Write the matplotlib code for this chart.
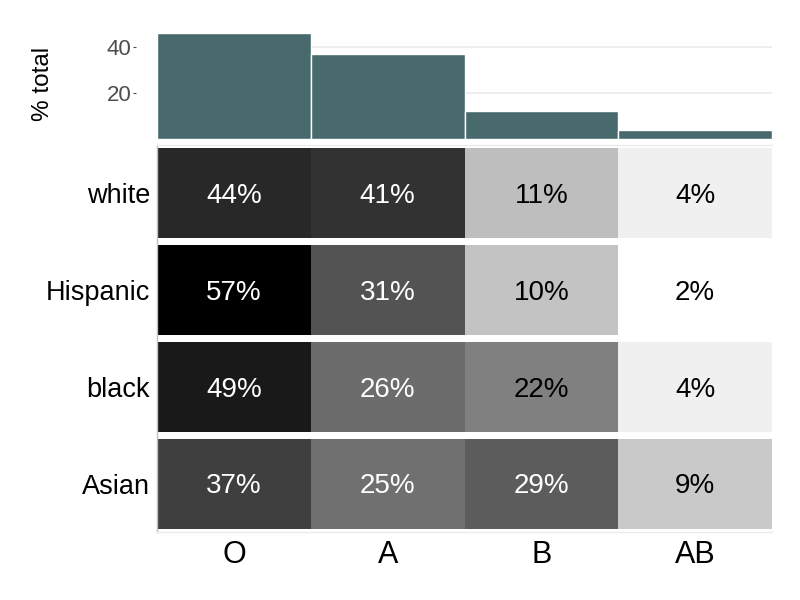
import matplotlib
matplotlib.use("Agg")
import matplotlib.pyplot as plt
from matplotlib.colors import LinearSegmentedColormap, Normalize

plt.rcParams['font.family'] = ['Liberation Sans', 'DejaVu Sans']

blood_types = ["O", "A", "B", "AB"]
groups = ["white", "Hispanic", "black", "Asian"]
total_pct = [46, 37, 12, 4]
group_pct = {
    "white":    [44, 41, 11, 4],
    "Hispanic": [57, 31, 10, 2],
    "black":    [49, 26, 22, 4],
    "Asian":    [37, 25, 29, 9],
}

bar_color = "#496a6d"
vmin, vmax = 2, 57
# grey ramp (value -> grey) anchors
ramp_vals = [2, 9, 22, 31, 44, 57]
ramp_cols = ["#ffffff", "#c8c8c8", "#808080", "#525252", "#282828", "#000000"]
cmap = LinearSegmentedColormap.from_list(
    "greys", [((v - vmin) / (vmax - vmin), c) for v, c in zip(ramp_vals, ramp_cols)])
norm = Normalize(vmin=vmin, vmax=vmax)

fig = plt.figure(figsize=(8, 6), dpi=100)
W, H = 800, 600
left, right = 157, 772
ax_top = fig.add_axes([left / W, 1 - 139 / H, (right - left) / W, (139 - 28) / H])
ax_hm = fig.add_axes([left / W, 1 - 532 / H, (right - left) / W, (532 - 145) / H])

# top bar chart
x = list(range(len(blood_types)))
ax_top.bar(x, total_pct, width=1.0, color=bar_color, edgecolor="white", linewidth=1.0, zorder=2)
ax_top.set_xlim(-0.5, 3.5)
ax_top.set_ylim(0, 48.3)
ax_top.set_yticks([20, 40])
ax_top.set_yticklabels(["20", "40"])
ax_top.yaxis.grid(True, color="#ebebeb", linewidth=1.2, zorder=0)
ax_top.set_axisbelow(True)
ax_top.set_xticks([])
for name, s in ax_top.spines.items():
    s.set_visible(False)
ax_top.spines["left"].set_position(("outward", 15))
ax_top.tick_params(axis="y", length=2.5, width=0.8, color="#4d4d4d", labelcolor="#4d4d4d",
                   labelsize=16, pad=1)
ax_top.set_ylabel("% total", fontsize=17.5, color="black", labelpad=38)

# heatmap
tile_h = 0.93
for i, g in enumerate(groups):
    vals = group_pct[g]
    for j, v in enumerate(vals):
        c = cmap(norm(v))
        ax_hm.bar(j, tile_h, bottom=i - tile_h / 2, width=1.0, color=c, linewidth=0)
        lum = c[0]
        ax_hm.annotate(f"{v}%", (j, i), xytext=(0, -2), textcoords="offset points",
                       ha="center", va="center", fontsize=20,
                       color="white" if lum < 0.48 else "black")
ax_hm.set_xlim(-0.5, 3.5)
ax_hm.set_ylim(3.5, -0.5)
ax_hm.set_xticks(x)
ax_hm.set_xticklabels(blood_types, fontsize=22)
ax_hm.set_yticks(range(len(groups)))
ax_hm.set_yticklabels(groups, fontsize=19.5)
ax_hm.tick_params(axis="y", length=0, pad=5)
ax_hm.tick_params(axis="x", length=0, pad=6)
ax_hm.spines["right"].set_visible(False)
ax_hm.spines["top"].set_color("#ebebeb")
ax_hm.spines["bottom"].set_color("#ebebeb")
ax_hm.spines["left"].set_color("#c0c0c0")
for s in ax_hm.spines.values():
    s.set_linewidth(1.0)

fig.savefig("out.png", dpi=100, facecolor="white")
